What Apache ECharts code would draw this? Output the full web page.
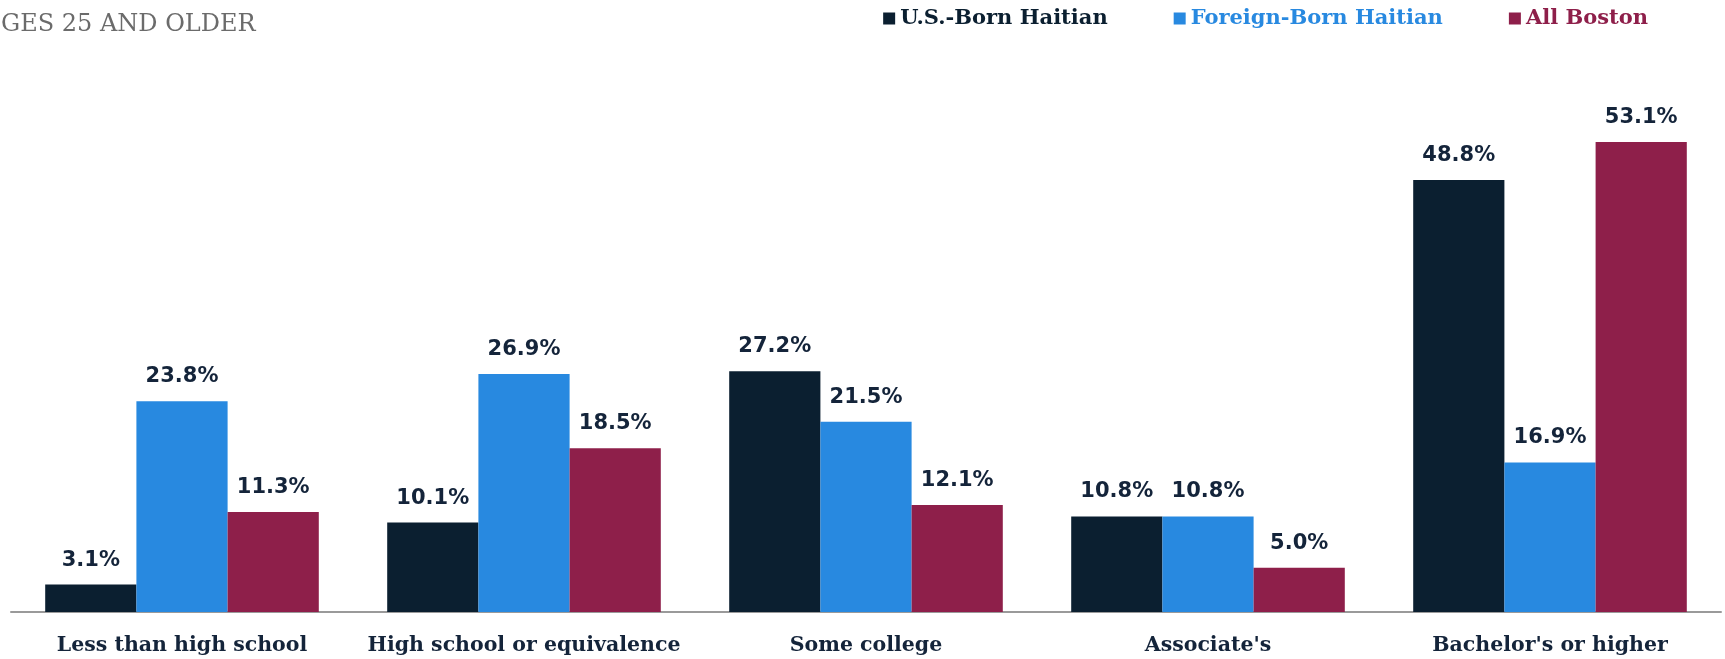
<!DOCTYPE html>
<html>
<head>
<meta charset="utf-8">
<script src="https://cdn.jsdelivr.net/npm/echarts@6/dist/echarts.min.js"></script>
<style>
  html, body { margin: 0; padding: 0; background: #fff; }
  #main { width: 1725px; height: 659px; }
</style>
</head>
<body>
<div id="main"></div>
<script>
const categories = ['Less than high school', 'High school or equivalence', 'Some college', "Associate's", "Bachelor's or higher"];
const usBorn = [3.1, 10.1, 27.2, 10.8, 48.8];
const foreignBorn = [23.8, 26.9, 21.5, 10.8, 16.9];
const allBoston = [11.3, 18.5, 12.1, 5.0, 53.1];

const colors = ['#0b1f30', '#2889e0', '#8e1f4a'];
const serif = '"DejaVu Serif", serif';

const label = {
  show: true,
  position: 'top',
  distance: 14,
  fontFamily: '"DejaVu Sans", sans-serif',
  fontWeight: 'bold',
  fontSize: 21,
  color: '#14243a',
  formatter: p => p.value.toFixed(1) + '%'
};

const chart = echarts.init(document.getElementById('main'));
chart.setOption({
  animation: false,
  title: {
    text: 'GES 25 AND OLDER',
    left: -4,
    top: 8,
    textStyle: { fontFamily: serif, fontWeight: 'normal', fontSize: 24, color: '#6b6b6b' }
  },
  legend: {
    right: 72,
    top: 3,
    icon: 'rect',
    itemWidth: 12,
    itemHeight: 12,
    itemGap: 66,
    data: [
      { name: 'U.S.-Born Haitian', textStyle: { color: colors[0] } },
      { name: 'Foreign-Born Haitian', textStyle: { color: colors[1] } },
      { name: 'All Boston', textStyle: { color: colors[2] } }
    ],
    textStyle: { fontFamily: serif, fontWeight: 'bold', fontSize: 21 }
  },
  grid: { left: 11, right: 4, top: 81, bottom: 47, containLabel: false },
  xAxis: {
    type: 'category',
    data: categories,
    axisTick: { show: false },
    axisLine: { lineStyle: { color: '#9a9a9a', width: 2 } },
    axisLabel: { interval: 0, margin: 23, fontFamily: serif, fontWeight: 'bold', fontSize: 20.5, color: '#14243a' }
  },
  yAxis: {
    type: 'value',
    min: 0,
    max: 60,
    show: false,
    splitLine: { show: false }
  },
  series: [
    { name: 'U.S.-Born Haitian', type: 'bar', data: usBorn, itemStyle: { color: colors[0] }, label, barGap: '0%', barCategoryGap: '20%' },
    { name: 'Foreign-Born Haitian', type: 'bar', data: foreignBorn, itemStyle: { color: colors[1] }, label },
    { name: 'All Boston', type: 'bar', data: allBoston, itemStyle: { color: colors[2] }, label }
  ]
});
</script>
</body>
</html>
